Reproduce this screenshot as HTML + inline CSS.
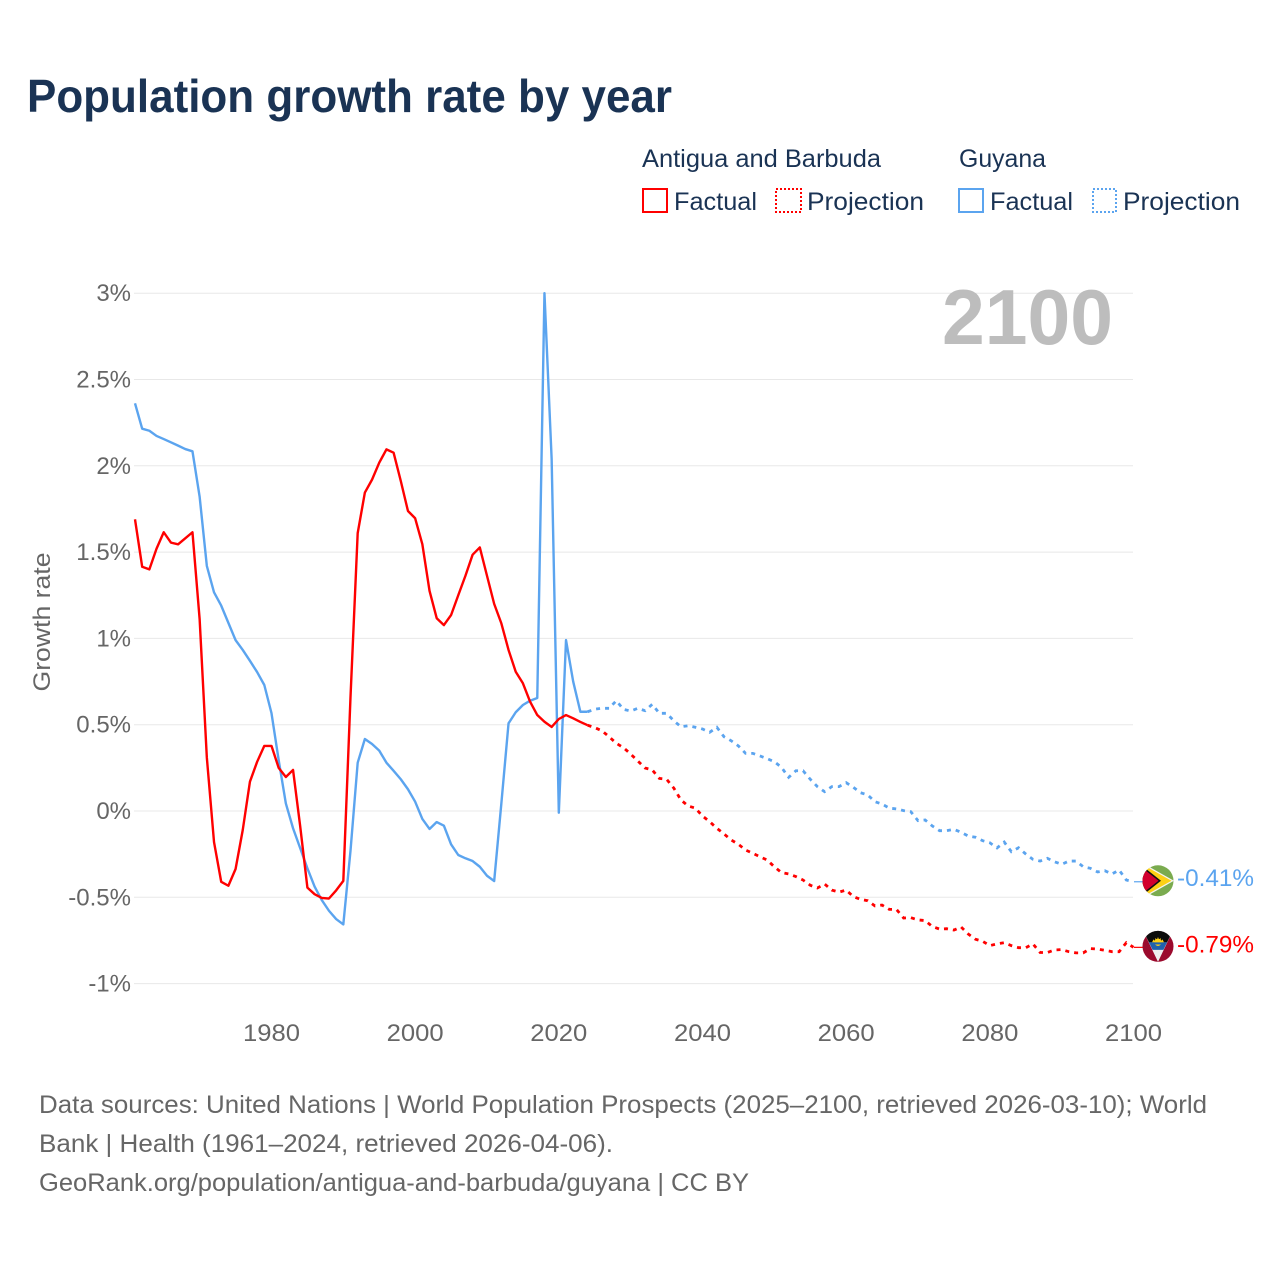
<!DOCTYPE html>
<html lang="en">
<head>
<meta charset="utf-8">
<title>Population growth rate by year</title>
<style>
html,body{margin:0;padding:0;background:#fff;width:1280px;height:1280px;overflow:hidden}
svg{display:block}
text{font-family:"Liberation Sans",sans-serif}
</style>
</head>
<body>
<svg id="chart" xmlns="http://www.w3.org/2000/svg" width="1280" height="1280" viewBox="0 0 1280 1280">
  <defs>
    <clipPath id="flag-clip"><circle cx="0" cy="0" r="15.5"/></clipPath>
  </defs>
  <rect x="0" y="0" width="1280" height="1280" fill="#fff"/>
  <text x="27" y="112" font-size="46" font-weight="700" fill="#1a3354" textLength="645" lengthAdjust="spacingAndGlyphs">Population growth rate by year</text>

  <g font-size="25" fill="#1a3354">
    <text x="642" y="167" textLength="239" lengthAdjust="spacingAndGlyphs">Antigua and Barbuda</text>
    <text x="959" y="167" textLength="87" lengthAdjust="spacingAndGlyphs">Guyana</text>
    <g>
      <rect x="643" y="189" width="24" height="23" fill="none" stroke="#ff0000" stroke-width="2"/>
      <text x="674" y="210" textLength="83" lengthAdjust="spacingAndGlyphs">Factual</text>
    </g>
    <g>
      <rect x="776" y="189" width="25" height="23" fill="none" stroke="#ff0000" stroke-width="2" stroke-dasharray="2 2"/>
      <text x="807" y="210" textLength="117" lengthAdjust="spacingAndGlyphs">Projection</text>
    </g>
    <g>
      <rect x="959" y="189" width="24" height="23" fill="none" stroke="#5ba4ef" stroke-width="2"/>
      <text x="990" y="210" textLength="83" lengthAdjust="spacingAndGlyphs">Factual</text>
    </g>
    <g>
      <rect x="1093" y="189" width="23" height="23" fill="none" stroke="#5ba4ef" stroke-width="2" stroke-dasharray="2 2"/>
      <text x="1123" y="210" textLength="117" lengthAdjust="spacingAndGlyphs">Projection</text>
    </g>
  </g>

  <text transform="translate(50,622) rotate(-90)" text-anchor="middle" font-size="24" fill="#666" textLength="139" lengthAdjust="spacingAndGlyphs">Growth rate</text>
  <g id="grid"></g>
  <g id="y-labels"></g>
  <g id="x-labels"></g>
  <text id="year-watermark" x="1113" y="344" text-anchor="end" font-size="78" font-weight="700" fill="#bdbdbd" textLength="171" lengthAdjust="spacingAndGlyphs"></text>
  <g id="series"></g>

  <g id="flag-guyana">
    <g clip-path="url(#flag-clip)">
      <rect x="-16" y="-16" width="32" height="32" fill="#7aab4f"/>
      <polygon points="-16,-18 16,0 -16,18" fill="#f4f4f0"/>
      <polygon points="-16,-16.5 13.5,0 -16,16.5" fill="#fcd116"/>
      <polygon points="-16,-15 3,0 -16,15" fill="#111"/>
      <polygon points="-16,-13 0.5,0 -16,13" fill="#d2002f"/>
    </g>
  </g>
  <g id="flag-antigua">
    <g clip-path="url(#flag-clip)">
      <rect x="-16" y="-16" width="32" height="32" fill="#9b0a2d"/>
      <polygon points="-15,-16 15,-16 0,15.5" fill="#eeeeee"/>
      <polygon points="-15,-16 15,-16 9,-4 -9,-4" fill="#0c0c0c"/>
      <polygon points="-9,-4 9,-4 5.4,3.5 -5.4,3.5" fill="#1f62ad"/>
      <circle cx="0" cy="-4" r="3.6" fill="#fcd116"/>
      <polygon points="-6,-4 -4.5,-7 -3,-5.5 -2.5,-8.5 -1,-6.5 0,-9.5 1,-6.5 2.5,-8.5 3,-5.5 4.5,-7 6,-4" fill="#fcd116"/>
      <polygon points="-9,-4 9,-4 8,-1.8 -8,-1.8" fill="#1f62ad"/>
    </g>
  </g>
  <text id="end-label-guyana" x="1177" font-size="24" fill="#5ba4ef" textLength="77" lengthAdjust="spacingAndGlyphs"></text>
  <text id="end-label-antigua" x="1177" font-size="24" fill="#ff0000" textLength="77" lengthAdjust="spacingAndGlyphs"></text>

  <g font-size="25" fill="#666">
    <text x="39" y="1113" textLength="1168" lengthAdjust="spacingAndGlyphs">Data sources: United Nations | World Population Prospects (2025–2100, retrieved 2026-03-10); World</text>
    <text x="39" y="1152" textLength="574" lengthAdjust="spacingAndGlyphs">Bank | Health (1961–2024, retrieved 2026-04-06).</text>
    <text x="39" y="1191" textLength="710" lengthAdjust="spacingAndGlyphs">GeoRank.org/population/antigua-and-barbuda/guyana | CC BY</text>
  </g>
</svg>
<script>
const watermarkYear = "2100";
const yTickValues = [3, 2.5, 2, 1.5, 1, 0.5, 0, -0.5, -1];
const yTickLabels = ["3%", "2.5%", "2%", "1.5%", "1%", "0.5%", "0%", "-0.5%", "-1%"];
const xTickValues = [1980, 2000, 2020, 2040, 2060, 2080, 2100];
const xTickLabels = ["1980", "2000", "2020", "2040", "2060", "2080", "2100"];

const factualYears = [1961,1962,1963,1964,1965,1966,1967,1968,1969,1970,1971,1972,1973,1974,1975,1976,1977,1978,1979,1980,1981,1982,1983,1984,1985,1986,1987,1988,1989,1990,1991,1992,1993,1994,1995,1996,1997,1998,1999,2000,2001,2002,2003,2004,2005,2006,2007,2008,2009,2010,2011,2012,2013,2014,2015,2016,2017,2018,2019,2020,2021,2022,2023,2024];
const projectionYears = [2024,2025,2026,2027,2028,2029,2030,2031,2032,2033,2034,2035,2036,2037,2038,2039,2040,2041,2042,2043,2044,2045,2046,2047,2048,2049,2050,2051,2052,2053,2054,2055,2056,2057,2058,2059,2060,2061,2062,2063,2064,2065,2066,2067,2068,2069,2070,2071,2072,2073,2074,2075,2076,2077,2078,2079,2080,2081,2082,2083,2084,2085,2086,2087,2088,2089,2090,2091,2092,2093,2094,2095,2096,2097,2098,2099,2100];

const antiguaFactual = [1.69,1.415,1.40,1.52,1.615,1.555,1.545,1.58,1.615,1.11,0.31,-0.18,-0.41,-0.433,-0.336,-0.11,0.17,0.285,0.377,0.377,0.25,0.197,0.238,-0.09,-0.444,-0.482,-0.504,-0.507,-0.46,-0.405,0.66,1.61,1.845,1.92,2.018,2.095,2.076,1.912,1.738,1.696,1.546,1.276,1.117,1.077,1.135,1.25,1.363,1.485,1.527,1.363,1.2,1.087,0.933,0.807,0.74,0.633,0.556,0.517,0.487,0.533,0.556,0.537,0.516,0.497];
const antiguaProjection = [0.497,0.483,0.465,0.43,0.392,0.367,0.33,0.29,0.249,0.238,0.189,0.184,0.133,0.064,0.029,0.017,-0.029,-0.062,-0.10,-0.133,-0.168,-0.193,-0.226,-0.245,-0.265,-0.284,-0.323,-0.357,-0.365,-0.38,-0.40,-0.43,-0.446,-0.423,-0.458,-0.47,-0.458,-0.496,-0.512,-0.52,-0.55,-0.545,-0.57,-0.57,-0.62,-0.618,-0.631,-0.635,-0.67,-0.684,-0.682,-0.69,-0.672,-0.713,-0.743,-0.755,-0.78,-0.77,-0.763,-0.78,-0.792,-0.792,-0.77,-0.82,-0.82,-0.805,-0.803,-0.815,-0.822,-0.822,-0.797,-0.80,-0.807,-0.815,-0.815,-0.763,-0.79];
const guyanaFactual = [2.362,2.215,2.203,2.173,2.155,2.136,2.117,2.097,2.084,1.82,1.42,1.267,1.19,1.09,0.99,0.933,0.87,0.805,0.73,0.567,0.295,0.044,-0.10,-0.216,-0.332,-0.438,-0.516,-0.578,-0.626,-0.657,-0.23,0.28,0.417,0.388,0.35,0.28,0.233,0.184,0.126,0.054,-0.046,-0.104,-0.064,-0.085,-0.193,-0.255,-0.274,-0.29,-0.323,-0.375,-0.406,0.044,0.508,0.572,0.614,0.639,0.655,3.0,2.04,-0.01,0.99,0.75,0.575,0.575];
const guyanaProjection = [0.575,0.59,0.595,0.595,0.639,0.589,0.579,0.595,0.581,0.618,0.566,0.566,0.523,0.488,0.494,0.485,0.475,0.456,0.485,0.43,0.407,0.377,0.334,0.334,0.319,0.303,0.286,0.253,0.195,0.233,0.233,0.184,0.141,0.112,0.141,0.141,0.164,0.137,0.106,0.093,0.054,0.04,0.017,0.012,0.002,-0.004,-0.056,-0.052,-0.087,-0.114,-0.114,-0.106,-0.123,-0.145,-0.152,-0.172,-0.184,-0.214,-0.18,-0.236,-0.213,-0.249,-0.28,-0.29,-0.274,-0.294,-0.309,-0.29,-0.29,-0.323,-0.332,-0.353,-0.346,-0.365,-0.342,-0.40,-0.41];

const endLabelGuyana = "-0.41%";
const endLabelAntigua = "-0.79%";

const NS = "http://www.w3.org/2000/svg";
function xScale(year) { return 135 + (year - 1961) * (1133.5 - 135) / (2100 - 1961); }
function yScale(v) { return 811 - v * 172.6; }
function linePath(years, values) {
  return years.map(function (yr, i) {
    return (i ? "L" : "M") + xScale(yr).toFixed(2) + " " + yScale(values[i]).toFixed(2);
  }).join("");
}

document.getElementById("year-watermark").textContent = watermarkYear;

const gridGroup = document.getElementById("grid");
const yLabelGroup = document.getElementById("y-labels");
yTickValues.forEach(function (v, i) {
  const gl = document.createElementNS(NS, "line");
  
  
  gl.setAttribute("x1", 134);
  gl.setAttribute("x2", 1133);
  gl.setAttribute("y1", yScale(v));
  gl.setAttribute("y2", yScale(v));
  gl.setAttribute("stroke", "#e8e8e8");
  gl.setAttribute("stroke-width", 1);
  gridGroup.appendChild(gl);
  const t = document.createElementNS(NS, "text");
  
  
  t.setAttribute("x", 131);
  t.setAttribute("y", yScale(v) + 8);
  t.setAttribute("text-anchor", "end");
  t.setAttribute("font-size", 24);
  t.setAttribute("fill", "#666");
  t.textContent = yTickLabels[i];
  yLabelGroup.appendChild(t);
});

const xLabelGroup = document.getElementById("x-labels");
xTickValues.forEach(function (yr, i) {
  const t = document.createElementNS(NS, "text");
  
  
  t.setAttribute("x", xScale(yr));
  t.setAttribute("y", 1041);
  t.setAttribute("text-anchor", "middle");
  t.setAttribute("font-size", 24);
  t.setAttribute("fill", "#666");
  t.setAttribute("textLength", 57);
  t.setAttribute("lengthAdjust", "spacingAndGlyphs");
  t.textContent = xTickLabels[i];
  xLabelGroup.appendChild(t);
});

const seriesGroup = document.getElementById("series");

const guyanaFactualLine = document.createElementNS(NS, "path");


guyanaFactualLine.setAttribute("d", linePath(factualYears, guyanaFactual));
guyanaFactualLine.setAttribute("fill", "none");
guyanaFactualLine.setAttribute("stroke", "#5ba4ef");
guyanaFactualLine.setAttribute("stroke-width", 2.4);
guyanaFactualLine.setAttribute("stroke-linejoin", "round");
seriesGroup.appendChild(guyanaFactualLine);

const antiguaFactualLine = document.createElementNS(NS, "path");


antiguaFactualLine.setAttribute("d", linePath(factualYears, antiguaFactual));
antiguaFactualLine.setAttribute("fill", "none");
antiguaFactualLine.setAttribute("stroke", "#ff0000");
antiguaFactualLine.setAttribute("stroke-width", 2.4);
antiguaFactualLine.setAttribute("stroke-linejoin", "round");
seriesGroup.appendChild(antiguaFactualLine);

const guyanaProjectionLine = document.createElementNS(NS, "path");


guyanaProjectionLine.setAttribute("d", linePath(projectionYears, guyanaProjection));
guyanaProjectionLine.setAttribute("fill", "none");
guyanaProjectionLine.setAttribute("stroke", "#5ba4ef");
guyanaProjectionLine.setAttribute("stroke-width", 2.8);
guyanaProjectionLine.setAttribute("stroke-dasharray", "4 5");
seriesGroup.appendChild(guyanaProjectionLine);

const antiguaProjectionLine = document.createElementNS(NS, "path");


antiguaProjectionLine.setAttribute("d", linePath(projectionYears, antiguaProjection));
antiguaProjectionLine.setAttribute("fill", "none");
antiguaProjectionLine.setAttribute("stroke", "#ff0000");
antiguaProjectionLine.setAttribute("stroke-width", 2.8);
antiguaProjectionLine.setAttribute("stroke-dasharray", "4 5");
seriesGroup.appendChild(antiguaProjectionLine);

const guyanaEndY = yScale(guyanaProjection[guyanaProjection.length - 1]);
const antiguaEndY = yScale(antiguaProjection[antiguaProjection.length - 1]);

const guyanaLeader = document.createElementNS(NS, "line");


guyanaLeader.setAttribute("x1", 1134);
guyanaLeader.setAttribute("x2", 1143);
guyanaLeader.setAttribute("y1", guyanaEndY);
guyanaLeader.setAttribute("y2", guyanaEndY);
guyanaLeader.setAttribute("stroke", "#5ba4ef");
guyanaLeader.setAttribute("stroke-width", 1.2);
seriesGroup.appendChild(guyanaLeader);

const antiguaLeader = document.createElementNS(NS, "line");


antiguaLeader.setAttribute("x1", 1134);
antiguaLeader.setAttribute("x2", 1143);
antiguaLeader.setAttribute("y1", antiguaEndY);
antiguaLeader.setAttribute("y2", antiguaEndY);
antiguaLeader.setAttribute("stroke", "#ff0000");
antiguaLeader.setAttribute("stroke-width", 1.2);
seriesGroup.appendChild(antiguaLeader);

document.getElementById("flag-guyana").setAttribute("transform", "translate(1158," + (guyanaEndY - 1) + ")");
document.getElementById("flag-antigua").setAttribute("transform", "translate(1158," + (antiguaEndY - 1) + ")");

const guyanaEndText = document.getElementById("end-label-guyana");
guyanaEndText.setAttribute("y", guyanaEndY + 4);
guyanaEndText.textContent = endLabelGuyana;

const antiguaEndText = document.getElementById("end-label-antigua");
antiguaEndText.setAttribute("y", antiguaEndY + 5);
antiguaEndText.textContent = endLabelAntigua;
</script>
</body>
</html>
